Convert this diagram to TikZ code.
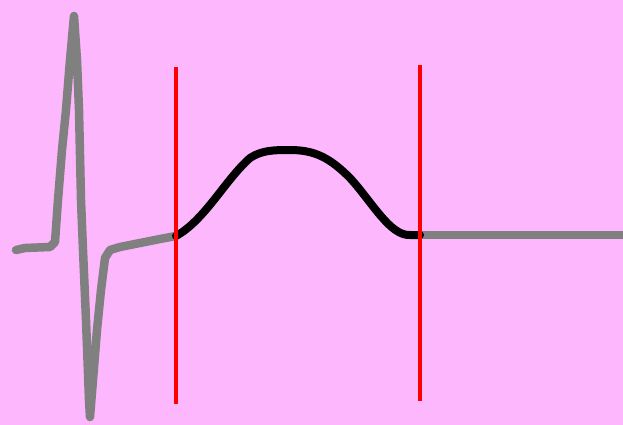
\documentclass[tikz,border=0pt]{standalone}
\usepackage{tikz}
\usetikzlibrary{calc}

\definecolor{bgpink}{RGB}{253,184,253}
\definecolor{tracegray}{RGB}{128,128,128}

\begin{document}
\begin{tikzpicture}[
  x=1pt, y=-1pt,
  trace/.style={draw=tracegray, line width=8.5pt, line join=round, line cap=round},
  twave/.style={draw=black, line width=8pt, line join=round, line cap=round},
  marker/.style={draw=red, line width=3.3pt}
]
  \fill[bgpink] (0,0) rectangle (623,425);
  \useasboundingbox (0,0) rectangle (623,425);

  % QRS complex and baseline
  \coordinate (qrsstart) at (16,250);
  \coordinate (tstart) at (176,236);
  \coordinate (tend) at (420,235);
  \coordinate (lineend) at (623,235);
  \draw[trace] (qrsstart) -- (25,248) -- (50,247) -- (55,242)
    -- (58,200) -- (62,150) -- (66,110) -- (70,60) -- (74,16)
    -- (77,60) -- (79,110) -- (81,200) -- (83,250) -- (86,320)
    -- (89,400) -- (90,417) -- (93,380) -- (97,330) -- (101,290)
    -- (105,258) -- (110,250) -- (120,247) -- (140,243) -- (160,239)
    -- (tstart);
  \draw[trace, line cap=butt] (tend) -- (lineend);

  % T wave
  \draw[twave] (tstart) .. controls (205,220) and (225,180) .. (250,158)
    .. controls (262,150) and (275,150) .. (290,150)
    .. controls (315,150) and (330,158) .. (350,178)
    .. controls (372,202) and (390,236) .. (410,235) -- (tend);

  % interval markers
  \coordinate (m1top) at (176,67);
  \coordinate (m1bot) at (176,404);
  \coordinate (m2top) at (420,65);
  \coordinate (m2bot) at (420,401);
  \draw[marker] (m1top) -- (m1bot);
  \draw[marker] (m2top) -- (m2bot);
\end{tikzpicture}
\end{document}
